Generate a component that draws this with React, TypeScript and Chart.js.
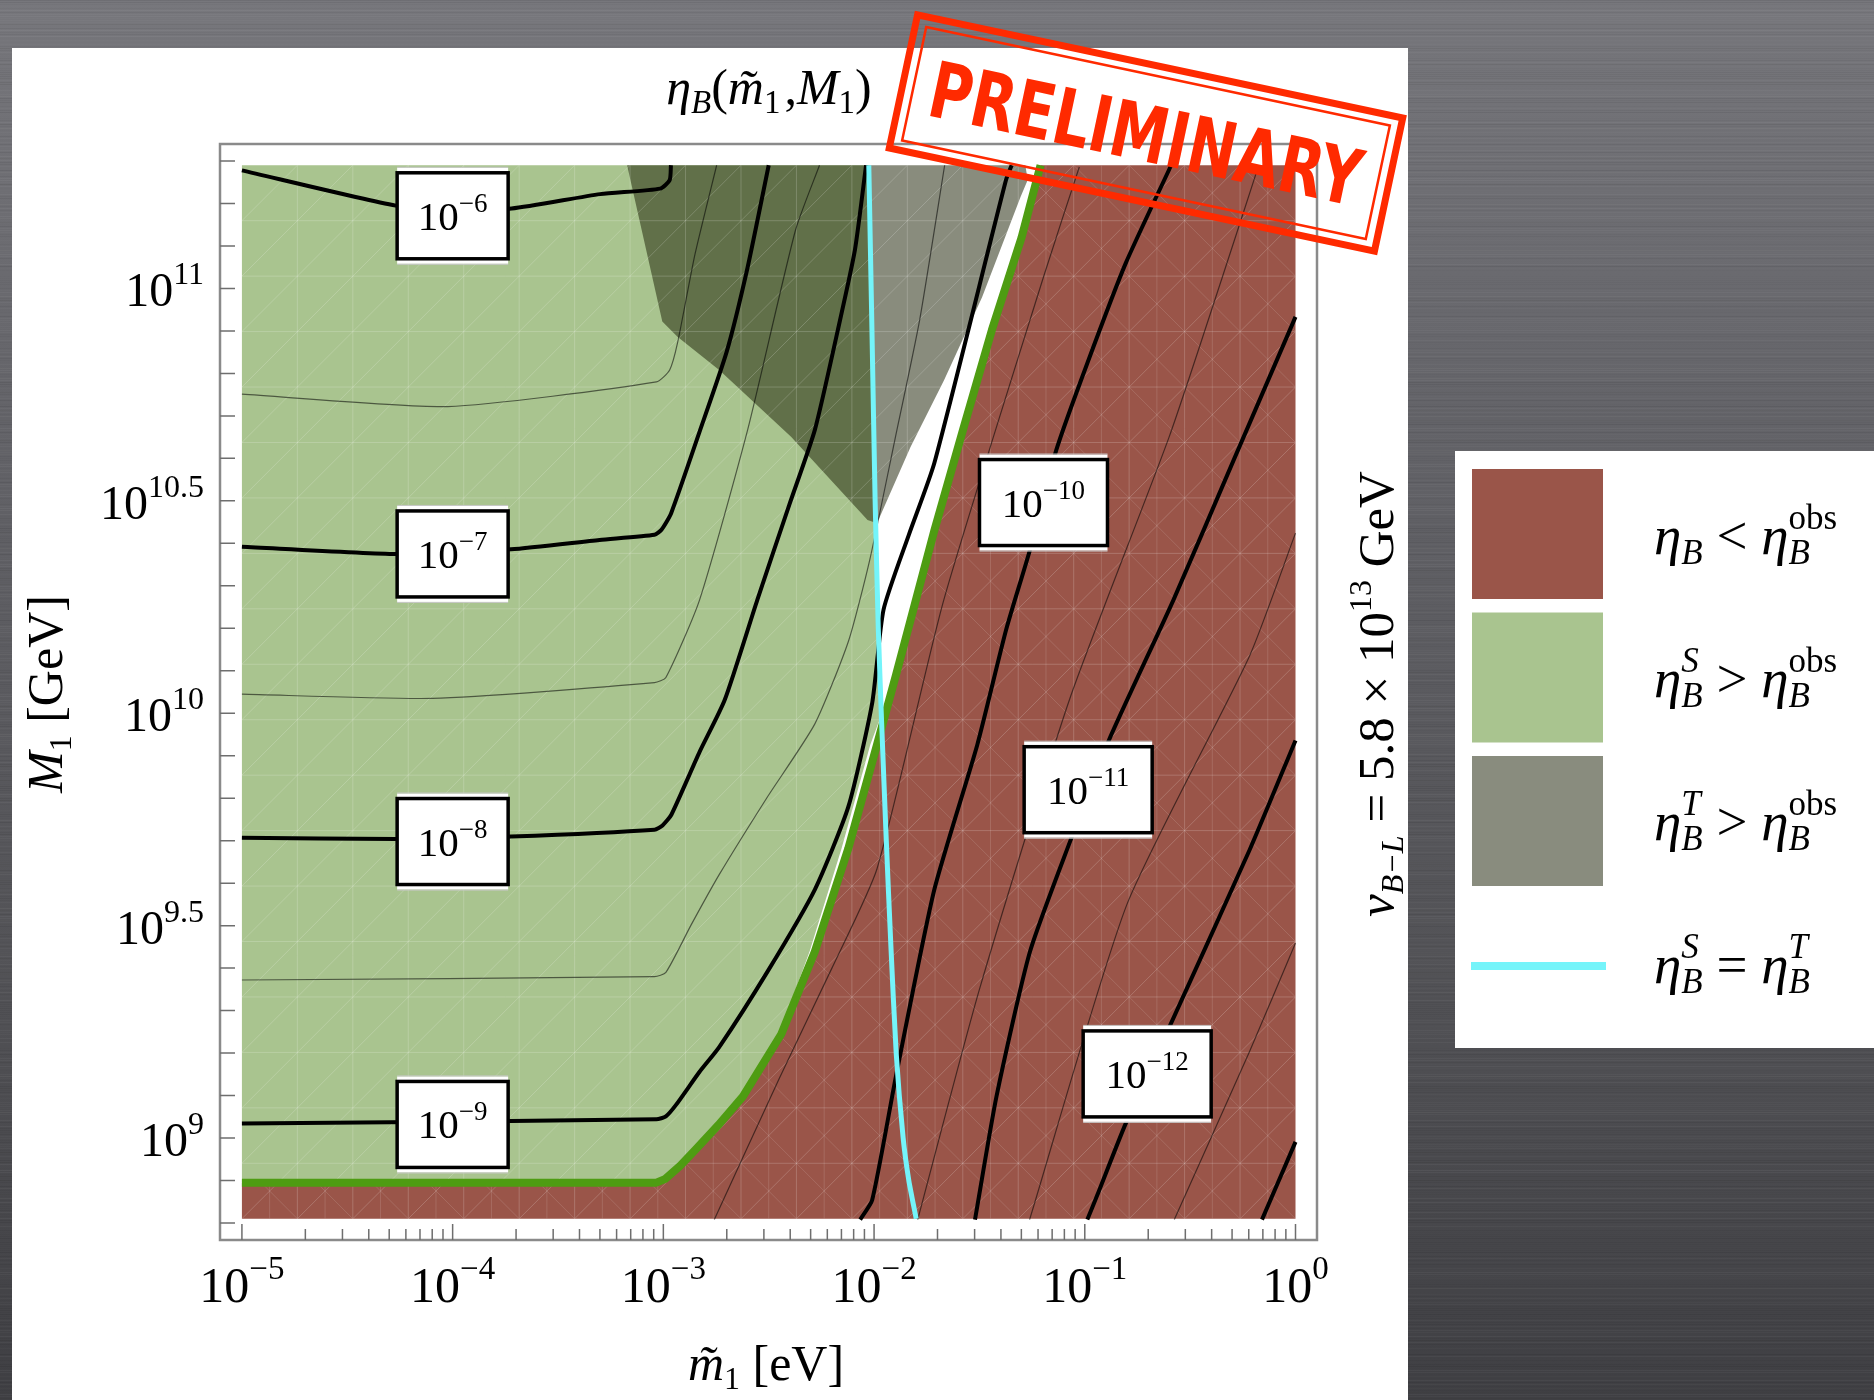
import { useEffect, useRef } from "react";
import { Chart, registerables } from "chart.js";

Chart.register(...registerables);

// ---------------- Axes (values are log10 exponents) ----------------
const xMajorExponents = [-5, -4, -3, -2, -1, 0];
const xMajorLabels = ["−5", "−4", "−3", "−2", "−1", "0"];
const yMajorExponents = [9, 9.5, 10, 10.5, 11];
const yMajorLabels = ["9", "9.5", "10", "10.5", "11"];
const xAxisRange = [-5.104, 0.102];
const yAxisRange = [8.76, 11.34];
const dataXRange = [-5, 0];
const dataYRange = [8.81, 11.29];

// ---------------- Region boundaries ----------------
// green thick line: eta_B^S = eta_B^obs
const greenLineX = [-5, -3.033, -2.99, -2.92, -2.849, -2.74, -2.622, -2.44, -2.281, -2.122, -1.986, -1.896, -1.805, -1.714, -1.578, -1.441, -1.3, -1.21];
const greenLineY = [8.895, 8.895, 8.904, 8.935, 8.972, 9.03, 9.098, 9.245, 9.439, 9.682, 9.926, 10.09, 10.26, 10.43, 10.667, 10.902, 11.12, 11.29];
// right edge of the light green fill (below the crossing with the cyan line)
const greenEdgeX = [-5, -3.033, -2.99, -2.92, -2.849, -2.74, -2.622, -2.45, -2.306, -2.154, -2.018, -1.97];
const greenEdgeY = [8.895, 8.895, 8.904, 8.935, 8.972, 9.03, 9.098, 9.245, 9.439, 9.682, 9.926, 9.99];
// cyan line: eta_B^S = eta_B^T
const cyanX = [-2.025, -2.01, -1.995, -1.98, -1.964, -1.942, -1.92, -1.895, -1.862, -1.835, -1.8];
const cyanY = [11.29, 10.9, 10.5, 10.2, 9.976, 9.7, 9.45, 9.2, 9.0, 8.9, 8.81];
// gray region: eta_B^T > eta_B^obs
const grayX = [-3.172, -3.005, -2.933, -2.735, -2.394, -2.031, -1.986, -1.827, -1.668, -1.487, -1.305, -1.271, -1.282];
const grayY = [11.29, 10.922, 10.886, 10.808, 10.651, 10.455, 10.447, 10.627, 10.784, 10.98, 11.215, 11.255, 11.29];

// ---------------- Contours of eta_B (thick: decades) ----------------
const c6X = [-5, -4.27, -4.0, -3.72, -3.3, -3.015, -2.97, -2.964];
const c6Y = [11.278, 11.195, 11.185, 11.188, 11.222, 11.235, 11.255, 11.29];
const c7X = [-5, -4.268, -3.723, -3.303, -3.042, -3.009, -2.963, -2.83, -2.7, -2.6, -2.5];
const c7Y = [10.392, 10.375, 10.386, 10.408, 10.42, 10.432, 10.471, 10.66, 10.85, 11.05, 11.29];
const c8X = [-5, -4.268, -3.723, -3.042, -3.004, -2.962, -2.828, -2.709, -2.554, -2.402, -2.281, -2.172, -2.091, -2.038];
const c8Y = [9.707, 9.704, 9.71, 9.726, 9.736, 9.761, 9.909, 10.031, 10.267, 10.491, 10.667, 10.902, 11.09, 11.29];
const c9X = [-5, -3.033, -2.988, -2.94, -2.828, -2.735, -2.508, -2.281, -2.122, -2.009, -1.955, -1.835, -1.714, -1.374, -1.347];
const c9Y = [9.034, 9.044, 9.051, 9.078, 9.156, 9.214, 9.39, 9.585, 9.78, 10.024, 10.244, 10.42, 10.589, 11.255, 11.29];
const c10X = [-2.066, -2.009, -1.896, -1.714, -1.51, -1.373, -1.26, -1.135, -0.988, -0.806, -0.59];
const c10Y = [8.808, 8.854, 9.146, 9.585, 9.926, 10.197, 10.385, 10.62, 10.824, 11.059, 11.29];
const c11X = [-1.521, -1.419, -1.26, -1.067, -0.886, -0.579, -0.29, 0];
const c11Y = [8.808, 9.098, 9.439, 9.702, 9.936, 10.267, 10.6, 10.933];
const c12X = [-0.988, -0.942, -0.806, -0.6, -0.218, 0];
const c12Y = [8.808, 8.864, 9.034, 9.26, 9.678, 9.936];
const c13X = [-0.159, 0];
const c13Y = [8.808, 8.991];

// ---------------- Contours (thin: half decades) ----------------
const t65X = [-5, -4.023, -3.033, -2.97, -2.933, -2.85, -2.747];
const t65Y = [10.751, 10.722, 10.78, 10.808, 10.871, 11.08, 11.29];
const t75X = [-5, -4.095, -3.042, -2.988, -2.828, -2.6, -2.373, -2.259];
const t75Y = [10.045, 10.035, 10.072, 10.084, 10.267, 10.667, 11.137, 11.29];
const t85X = [-5, -3.042, -2.988, -2.87, -2.735, -2.51, -2.281, -2.122, -2.021, -1.902, -1.784, -1.665];
const t85Y = [9.372, 9.38, 9.39, 9.5, 9.62, 9.8, 9.975, 10.169, 10.36, 10.642, 10.925, 11.29];
const t95X = [-2.758, -2.45, -2.2, -1.986, -1.669, -1.196, -1.026];
const t95Y = [8.808, 9.14, 9.4, 9.634, 10.267, 11.027, 11.286];
const t105X = [-1.793, -1.5, -1.072, -0.6, -0.347, -0.177];
const t105Y = [8.808, 9.35, 10.033, 10.65, 11.027, 11.286];
const t115X = [-1.262, -0.8, -0.218, 0];
const t115Y = [8.808, 9.55, 10.135, 10.424];
const t125X = [-0.575, -0.218, 0];
const t125Y = [8.808, 9.204, 9.459];

// ---------------- Contour labels ----------------
const labelExps = ["−6", "−7", "−8", "−9", "−10", "−11", "−12"];
const labelX = [-4, -4, -4, -4, -1.196, -0.984, -0.704];
const labelY = [11.171, 10.375, 9.698, 9.032, 10.496, 9.82, 9.151];

// ---------------- Styles ----------------
const BROWN = "#9A5549";
const GREEN = "#A9C48F";
const GRAY_FILL = "rgba(33,40,12,0.535)";
const GRAY_SWATCH = "#898C7E";
const GREEN_LINE = "#4E9C12";
const CYAN = "#74F4FA";
const RED = "#FF2A00";
const SERIF = '"Liberation Serif", "Times New Roman", serif';
const MESH_CELLS = 19;

type Pt = { x: number; y: number };
const pts = (xs: number[], ys: number[]): Pt[] => xs.map((x, i) => ({ x, y: ys[i] }));

const brownPoly: Pt[] = [
  { x: dataXRange[0], y: dataYRange[0] },
  ...pts(greenLineX, greenLineY),
  { x: dataXRange[1], y: dataYRange[1] },
  { x: dataXRange[1], y: dataYRange[0] },
];
const cyanAbove = pts(cyanX, cyanY)
  .filter((p) => p.y > greenEdgeY[greenEdgeY.length - 1])
  .reverse();
const greenPoly: Pt[] = [{ x: dataXRange[0], y: dataYRange[1] }, ...pts(greenEdgeX, greenEdgeY), ...cyanAbove];
const grayPoly: Pt[] = pts(grayX, grayY);

const thick = [
  [c6X, c6Y], [c7X, c7Y], [c8X, c8Y], [c9X, c9Y], [c10X, c10Y], [c11X, c11Y], [c12X, c12Y], [c13X, c13Y],
];
const thin = [
  [t65X, t65Y], [t75X, t75Y], [t85X, t85Y], [t95X, t95Y], [t105X, t105Y], [t115X, t115Y], [t125X, t125Y],
];

// ---------------- Rich text helper ----------------
type Seg = { t: string; s: number; i?: boolean; dy?: number; pad?: number; up?: { t: string; s: number; i?: boolean; dy: number } };
const fontOf = (s: number, i?: boolean) => `${i ? "italic " : ""}${s}px ${SERIF}`;
function segWidth(ctx: CanvasRenderingContext2D, g: Seg) {
  ctx.font = fontOf(g.s, g.i);
  let w = ctx.measureText(g.t).width;
  if (g.up) {
    ctx.font = fontOf(g.up.s, g.up.i);
    w = Math.max(w, ctx.measureText(g.up.t).width);
  }
  return w + (g.pad || 0);
}
function richWidth(ctx: CanvasRenderingContext2D, segs: Seg[]) {
  return segs.reduce((a, g) => a + segWidth(ctx, g), 0);
}
function drawRich(ctx: CanvasRenderingContext2D, segs: Seg[], x: number, y: number, align: "left" | "center" | "right") {
  const W = richWidth(ctx, segs);
  let cx = align === "left" ? x : align === "center" ? x - W / 2 : x - W;
  ctx.textAlign = "left";
  ctx.textBaseline = "alphabetic";
  for (const g of segs) {
    ctx.font = fontOf(g.s, g.i);
    ctx.fillText(g.t, cx, y + (g.dy || 0));
    if (g.up) {
      ctx.font = fontOf(g.up.s, g.up.i);
      ctx.fillText(g.up.t, cx, y + g.up.dy);
    }
    cx += segWidth(ctx, g);
  }
  return W;
}

const eta = (s: number): Seg => ({ t: "η", s, i: true });
const LS = 55;
const LSUB = 35;
const sub = (t: string, up?: string, upItalic?: boolean): Seg => ({
  t, s: LSUB, i: true, dy: 10,
  up: up ? { t: up, s: LSUB, i: upItalic, dy: -25 } : undefined,
});
const legendRows: Seg[][] = [
  [eta(LS), sub("B"), { t: " < ", s: LS }, eta(LS), sub("B", "obs")],
  [eta(LS), sub("B", "S", true), { t: " > ", s: LS }, eta(LS), sub("B", "obs")],
  [eta(LS), sub("B", "T", true), { t: " > ", s: LS }, eta(LS), sub("B", "obs")],
  [eta(LS), sub("B", "S", true), { t: " = ", s: LS }, eta(LS), sub("B", "T", true)],
];
const legendSwatches = [BROWN, GREEN, GRAY_SWATCH, CYAN];

// ---------------- Drawing helpers ----------------
function drawBackground(ctx: CanvasRenderingContext2D, W: number, H: number) {
  const g = ctx.createLinearGradient(0, 0, 0, H);
  g.addColorStop(0, "#77777c");
  g.addColorStop(0.3, "#636368");
  g.addColorStop(0.7, "#525256");
  g.addColorStop(1, "#3f3f43");
  ctx.fillStyle = g;
  ctx.fillRect(0, 0, W, H);
  for (let y = 0; y < H; y += 2) {
    const v = Math.sin(y * 12.9898) * 43758.5453;
    const f = v - Math.floor(v);
    ctx.fillStyle = f > 0.5 ? `rgba(255,255,255,${((f - 0.5) * 0.1).toFixed(3)})` : `rgba(0,0,0,${((0.5 - f) * 0.14).toFixed(3)})`;
    ctx.fillRect(0, y, W, 1);
  }
  ctx.fillStyle = "#ffffff";
  ctx.fillRect(12, 48, 1396, H - 48);
  ctx.fillRect(1455, 451, W - 1455, 597);
}

function polyPath(chart: any, poly: Pt[]) {
  const { ctx, scales } = chart;
  ctx.beginPath();
  poly.forEach((p, k) => {
    const px = scales.x.getPixelForValue(p.x);
    const py = scales.y.getPixelForValue(p.y);
    if (k === 0) ctx.moveTo(px, py);
    else ctx.lineTo(px, py);
  });
  ctx.closePath();
}

function drawMesh(chart: any) {
  const { ctx, scales } = chart;
  const x0 = scales.x.getPixelForValue(dataXRange[0]);
  const x1 = scales.x.getPixelForValue(dataXRange[1]);
  const yb = scales.y.getPixelForValue(dataYRange[0]);
  const yt = scales.y.getPixelForValue(dataYRange[1]);
  const N = MESH_CELLS;
  const dx = (x1 - x0) / N;
  const dy = (yb - yt) / N;
  ctx.save();
  ctx.beginPath();
  ctx.rect(x0, yt, x1 - x0, yb - yt);
  ctx.clip();
  ctx.lineWidth = 1;
  ctx.strokeStyle = "rgba(255,255,255,0.19)";
  ctx.beginPath();
  for (let k = 1; k < N; k++) {
    ctx.moveTo(x0 + k * dx, yt);
    ctx.lineTo(x0 + k * dx, yb);
    ctx.moveTo(x0, yt + k * dy);
    ctx.lineTo(x1, yt + k * dy);
  }
  for (let i = 0; i < N; i++)
    for (let j = 0; j < N; j++) {
      ctx.moveTo(x0 + i * dx, yt + (j + 1) * dy);
      ctx.lineTo(x0 + (i + 1) * dx, yt + j * dy);
    }
  ctx.stroke();
  polyPath(chart, brownPoly);
  ctx.clip();
  ctx.strokeStyle = "rgba(255,255,255,0.13)";
  ctx.beginPath();
  for (let k = 0; k < N; k++) {
    ctx.moveTo(x0 + (k + 0.5) * dx, yt);
    ctx.lineTo(x0 + (k + 0.5) * dx, yb);
  }
  for (let i = 0; i < N; i++)
    for (let j = 0; j < N; j++) {
      ctx.moveTo(x0 + i * dx, yt + j * dy);
      ctx.lineTo(x0 + (i + 1) * dx, yt + (j + 1) * dy);
    }
  ctx.stroke();
  ctx.restore();
}

function drawLabels(chart: any) {
  const { ctx, scales } = chart;
  labelExps.forEach((e, k) => {
    const cx = scales.x.getPixelForValue(labelX[k]);
    const cy = scales.y.getPixelForValue(labelY[k]);
    const w = e.length > 2 ? 128 : 111;
    const h = 86;
    ctx.save();
    ctx.fillStyle = "#fff";
    ctx.fillRect(cx - w / 2, cy - h / 2 - 5, w, h + 10);
    ctx.strokeStyle = "#c8c8c8";
    ctx.lineWidth = 1;
    ctx.beginPath();
    ctx.moveTo(cx - w / 2, cy - h / 2 - 5.5);
    ctx.lineTo(cx + w / 2, cy - h / 2 - 5.5);
    ctx.moveTo(cx - w / 2, cy + h / 2 + 5.5);
    ctx.lineTo(cx + w / 2, cy + h / 2 + 5.5);
    ctx.stroke();
    ctx.strokeStyle = "#000";
    ctx.lineWidth = 3.5;
    ctx.strokeRect(cx - w / 2, cy - h / 2, w, h);
    ctx.fillStyle = "#000";
    drawRich(ctx, [{ t: "10", s: 41 }, { t: e, s: 27, dy: -18 }], cx, cy + 14, "center");
    ctx.restore();
  });
}

function drawAxesAndText(chart: any) {
  const { ctx, scales, chartArea } = chart;
  const { left, right, top, bottom } = chartArea;
  ctx.save();
  ctx.strokeStyle = "#8a8a8a";
  ctx.lineWidth = 2.5;
  ctx.strokeRect(left, top, right - left, bottom - top);
  ctx.strokeStyle = "#6e6e6e";
  ctx.lineWidth = 1.5;
  ctx.beginPath();
  for (let k = 88; k <= 113; k++) {
    const py = scales.y.getPixelForValue(k / 10);
    ctx.moveTo(left, py);
    ctx.lineTo(left + 15, py);
  }
  for (let n = -5; n <= 0; n++) {
    const mMax = n === 0 ? 1 : 9;
    for (let m = 1; m <= mMax; m++) {
      const px = scales.x.getPixelForValue(n + Math.log10(m));
      ctx.moveTo(px, bottom);
      ctx.lineTo(px, bottom - (m === 1 ? 16 : 11));
    }
  }
  ctx.stroke();
  ctx.fillStyle = "#000";
  yMajorExponents.forEach((e, k) => {
    const py = scales.y.getPixelForValue(e);
    drawRich(ctx, [{ t: "10", s: 48 }, { t: yMajorLabels[k], s: 32, dy: -22 }], left - 16, py + 18, "right");
  });
  xMajorExponents.forEach((e, k) => {
    const px = scales.x.getPixelForValue(e);
    drawRich(ctx, [{ t: "10", s: 50 }, { t: xMajorLabels[k], s: 33, dy: -23 }], px, 1302, "center");
  });
  drawRich(
    ctx,
    [eta(50), { t: "B", s: 33, i: true, dy: 9 }, { t: "(", s: 50 }, { t: "m\u0303", s: 50, i: true }, { t: "1", s: 33, dy: 9, pad: 4 }, { t: ",", s: 50 }, { t: "M", s: 50, i: true }, { t: "1", s: 33, dy: 9 }, { t: ")", s: 50 }],
    769, 104, "center"
  );
  drawRich(ctx, [{ t: "m\u0303", s: 50, i: true }, { t: "1", s: 32, dy: 9 }, { t: " [eV]", s: 50 }], 766, 1380, "center");
  ctx.save();
  ctx.translate(62, 694);
  ctx.rotate(-Math.PI / 2);
  drawRich(ctx, [{ t: "M", s: 50, i: true }, { t: "1", s: 32, dy: 9 }, { t: " [GeV]", s: 50 }], 0, 0, "center");
  ctx.restore();
  ctx.save();
  ctx.translate(1393, 694);
  ctx.rotate(-Math.PI / 2);
  drawRich(
    ctx,
    [{ t: "v", s: 51, i: true }, { t: "B−L", s: 32, i: true, dy: 10 }, { t: " = 5.8 × 10", s: 51 }, { t: "13", s: 32, dy: -22 }, { t: " GeV", s: 51 }],
    0, 0, "center"
  );
  ctx.restore();
  const rowBase = [554, 697, 840, 983];
  legendSwatches.forEach((c, k) => {
    ctx.fillStyle = c;
    if (k < 3) ctx.fillRect(1472, 469 + k * 143.5, 131, 130);
    else ctx.fillRect(1471, 962, 135, 8);
    ctx.fillStyle = "#000";
    drawRich(ctx, legendRows[k], 1654, rowBase[k], "left");
  });
  // PRELIMINARY stamp
  ctx.save();
  ctx.translate(1146, 133);
  ctx.rotate((12 * Math.PI) / 180);
  ctx.strokeStyle = RED;
  ctx.fillStyle = RED;
  ctx.lineWidth = 7;
  ctx.strokeRect(-248, -68, 496, 136);
  ctx.lineWidth = 2.5;
  ctx.strokeRect(-237, -58, 474, 116);
  ctx.font = 'bold 78px "DejaVu Sans Condensed", "Liberation Sans", Arial, sans-serif';
  const tw = ctx.measureText("PRELIMINARY").width;
  ctx.scale(440 / tw, 1);
  ctx.textAlign = "center";
  ctx.textBaseline = "middle";
  ctx.fillText("PRELIMINARY", 0, 8);
  ctx.restore();
  ctx.restore();
}

export default function App() {
  const ref = useRef<HTMLCanvasElement>(null);
  useEffect(() => {
    const base = { pointRadius: 0, tension: 0, fill: false, borderJoinStyle: "round" as const };
    const curve = { ...base, tension: 0.2 };
    const datasets: any[] = [
      { ...base, label: "ηB < ηB^obs", data: brownPoly, fill: "shape", backgroundColor: BROWN, borderWidth: 0, order: 9 },
      { ...base, label: "ηB^S > ηB^obs", data: greenPoly, fill: "shape", backgroundColor: GREEN, borderWidth: 0, order: 8 },
      { ...base, label: "ηB^T > ηB^obs", data: grayPoly, fill: "shape", backgroundColor: GRAY_FILL, borderWidth: 0, order: 7 },
      ...thin.map(([xs, ys], k) => ({ ...curve, label: `thin ${k}`, data: pts(xs, ys), borderColor: "rgba(0,0,0,0.55)", borderWidth: 1.2, order: 5 })),
      ...thick.map(([xs, ys], k) => ({ ...curve, label: `contour 10^-${k + 6}`, data: pts(xs, ys), borderColor: "#000", borderWidth: 4, order: 4 })),
      { ...base, label: "green", data: pts(greenLineX, greenLineY), borderColor: GREEN_LINE, borderWidth: 8, borderCapStyle: "butt", order: 2 },
      { ...curve, label: "ηB^S = ηB^T", data: pts(cyanX, cyanY), borderColor: CYAN, borderWidth: 5, order: 1 },
    ];
    const chart = new Chart(ref.current as HTMLCanvasElement, {
      type: "line",
      data: { datasets },
      options: {
        responsive: false,
        maintainAspectRatio: false,
        devicePixelRatio: 1,
        animation: false,
        events: [],
        layout: { padding: { left: 220, top: 144, right: 557, bottom: 160 } },
        scales: {
          x: { type: "linear", min: xAxisRange[0], max: xAxisRange[1], display: false },
          y: { type: "linear", min: yAxisRange[0], max: yAxisRange[1], display: false },
        },
        plugins: { legend: { display: false }, title: { display: false }, tooltip: { enabled: false } },
      },
      plugins: [
        {
          id: "decor",
          beforeDraw(c: any) {
            drawBackground(c.ctx, c.width, c.height);
          },
          afterDatasetDraw(c: any, args: any) {
            if (args.index === 2) drawMesh(c);
          },
          afterDatasetsDraw(c: any) {
            drawLabels(c);
          },
          afterDraw(c: any) {
            drawAxesAndText(c);
          },
        },
      ],
    } as any);
    return () => chart.destroy();
  }, []);
  return (
    <div style={{ position: "absolute", left: 0, top: 0, width: 1874, height: 1400 }}>
      <canvas ref={ref} width={1874} height={1400} style={{ display: "block", width: 1874, height: 1400 }} />
    </div>
  );
}
